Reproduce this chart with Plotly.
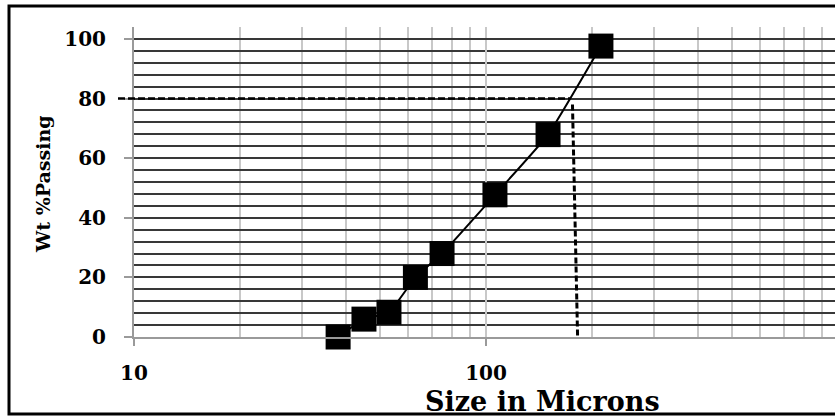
import math
import plotly.graph_objects as go

# Sieve analysis: cumulative weight percent passing vs. aperture size
size_um = [38, 45, 53, 63, 75, 106, 150, 212]
wt_passing = [0, 6, 8.3, 20, 28, 47.7, 67.9, 97.6]

# 80 % passing reference (P80)
p80_level = 80
p80_top_size, p80_top_level = 176, 78
p80_bottom_size = 182

y_tick_vals = [0, 20, 40, 60, 80, 100]
x_tick_vals = [10, 100, 1000]
x_min, x_max = 10, 980
y_min, y_max = 0, 104

FONT = "DejaVu Serif"
W, H = 835, 416
M_L, M_R, M_T, M_B = 134, 0, 27, 79
plot_w = W - M_L - M_R
plot_h = H - M_T - M_B


def x_paper(v):
    return (math.log10(v) - math.log10(x_min)) / (math.log10(x_max) - math.log10(x_min))


def y_paper(v):
    return (v - y_min) / (y_max - y_min)


fig = go.Figure()

fig.add_trace(go.Scatter(
    x=size_um, y=wt_passing, mode="lines+markers",
    line=dict(color="black", width=2, shape="spline", smoothing=0.4),
    marker=dict(symbol="square", size=25, color="black"),
    cliponaxis=False, showlegend=False,
))

fig.update_layout(
    width=W, height=H,
    margin=dict(l=M_L, r=M_R, t=M_T, b=M_B, pad=0),
    paper_bgcolor="white", plot_bgcolor="white",
    font=dict(family=FONT, color="black"),
    xaxis=dict(
        type="log", range=[math.log10(x_min), math.log10(x_max)],
        tickvals=x_tick_vals, ticktext=[str(v) for v in x_tick_vals],
        tickfont=dict(family=FONT, size=20, color="black", weight="bold"),
        ticks="outside", ticklen=7, tickwidth=2, tickcolor="#9a9a9a",
        ticklabelstandoff=10,
        showgrid=True, gridcolor="#c8c8c8", gridwidth=2,
        minor=dict(dtick="D1", showgrid=True, gridcolor="#c8c8c8", gridwidth=2, ticks=""),
        showline=True, linecolor="#9a9a9a", linewidth=2,
        zeroline=False, fixedrange=True,
    ),
    yaxis=dict(
        range=[y_min, y_max],
        tickvals=y_tick_vals,
        tickfont=dict(family=FONT, size=20, color="black", weight="bold"),
        ticks="outside", ticklen=8, tickwidth=2, tickcolor="#9a9a9a",
        ticklabelstandoff=14,
        showgrid=True, gridcolor="#383838", gridwidth=1.9,
        minor=dict(dtick=4, showgrid=True, gridcolor="#383838", gridwidth=1.9, ticks=""),
        showline=True, linecolor="#9a9a9a", linewidth=2,
        zeroline=False, fixedrange=True,
    ),
)

# P80 guide lines
stub = -16 / plot_w
fig.add_shape(type="line", xref="paper", yref="paper",
              x0=stub, x1=x_paper(p80_top_size) - 0.003,
              y0=y_paper(p80_level), y1=y_paper(p80_level),
              line=dict(color="black", width=2.6, dash="7px,3px"), layer="above")
fig.add_shape(type="line", xref="x", yref="y",
              x0=p80_top_size, y0=p80_top_level, x1=p80_bottom_size, y1=0,
              line=dict(color="black", width=3, dash="6px,3px"), layer="above")

# Outer frame
fig.add_shape(type="rect", xref="paper", yref="paper",
              x0=(9 - M_L) / plot_w, x1=1.05,
              y0=-(414 - M_T - plot_h) / plot_h, y1=1 + (M_T - 6) / plot_h,
              line=dict(color="black", width=3), fillcolor="rgba(0,0,0,0)", layer="above")

# Axis titles
fig.add_annotation(text="<b>Wt %Passing</b>", textangle=-90,
                   xref="paper", yref="paper",
                   x=(43 - M_L) / plot_w, y=(M_T + plot_h - 184) / plot_h,
                   xanchor="center", yanchor="middle", showarrow=False,
                   font=dict(family=FONT, size=19, color="black"))
fig.add_annotation(text="<b>Size in Microns</b>",
                   xref="paper", yref="paper",
                   x=(542 - M_L) / plot_w, y=-(401 - M_T - plot_h) / plot_h,
                   xanchor="center", yanchor="middle", showarrow=False,
                   font=dict(family=FONT, size=27, color="black"))

fig.write_html("out.html", config={"displayModeBar": False})
